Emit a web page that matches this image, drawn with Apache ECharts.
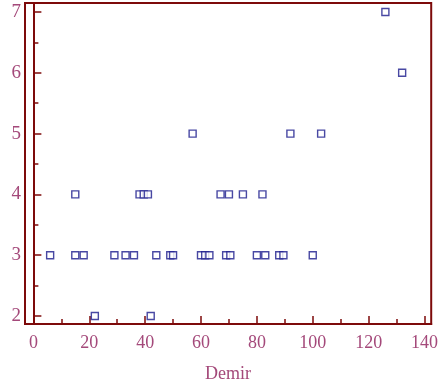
<!DOCTYPE html>
<html>
<head>
<meta charset="utf-8">
<script src="https://cdn.jsdelivr.net/npm/echarts@6/dist/echarts.min.js"></script>
<style>
  html, body { margin: 0; padding: 0; background: #fff; }
  #chart { width: 441px; height: 390px; }
</style>
</head>
<body>
<div id="chart"></div>
<script>
// Demir values (x) and the class values (y)
const demir = [126, 132, 57, 92, 103,
  15, 38, 39.5, 41, 67, 70, 75, 82,
  6, 15, 18, 29, 33, 36, 44, 49, 50, 60, 61.5, 63, 69, 70.5, 80, 83, 88, 89.5, 100,
  22, 42]
const grade = [7, 6, 5, 5, 5,
  4, 4, 4, 4, 4, 4, 4, 4,
  3, 3, 3, 3, 3, 3, 3, 3, 3, 3, 3, 3, 3, 3, 3, 3, 3, 3, 3,
  2, 2]
const xTicks = [0, 20, 40, 60, 80, 100, 120, 140]
const xMinor = [10, 30, 50, 70, 90, 110, 130]
const yTicks = [2, 3, 4, 5, 6, 7]
const yMinor = [2.5, 3.5, 4.5, 5.5, 6.5]

const axisRed = '#7d0a0a'
const labelColor = '#a4497a'
const font = 'Liberation Serif'

const chart = echarts.init(document.getElementById('chart'))

function xAx(ticks, len, withLabels) {
  return {
    type: 'value', min: -3.0, max: 142.4, position: 'bottom',
    splitLine: { show: false },
    axisLine: { show: true, lineStyle: { color: axisRed, width: 2 } },
    axisTick: { show: true, inside: true, length: len, customValues: ticks, lineStyle: { color: axisRed, width: 1.5 } },
    axisLabel: {
      show: withLabels, customValues: ticks, margin: 10,
      color: labelColor, fontFamily: font, fontSize: 18
    },
    name: withLabels ? 'Demir' : '', nameLocation: 'middle', nameGap: 41,
    nameTextStyle: { color: labelColor, fontFamily: font, fontSize: 18 }
  }
}

function yAx(ticks, len, withLabels) {
  return {
    type: 'value', min: 1.869, max: 7.148, position: 'left',
    splitLine: { show: false },
    axisLine: { show: true, lineStyle: { color: axisRed, width: 2 } },
    axisTick: { show: true, inside: true, length: len, customValues: ticks, lineStyle: { color: axisRed, width: 1.5 } },
    axisLabel: {
      show: withLabels, customValues: ticks, margin: 4,
      color: labelColor, fontFamily: font, fontSize: 19
    }
  }
}

const points = demir.map((d, i) => [d, grade[i]])

const option = {
  animation: false,
  backgroundColor: '#fff',
  grid: {
    left: 25, top: 3, right: 6, bottom: 66,
    show: true, borderColor: axisRed, borderWidth: 2
  },
  xAxis: [xAx(xTicks, 8, true), xAx(xMinor, 5, false)],
  yAxis: [yAx(yTicks, 8, true), yAx(yMinor, 5, false)],
  series: [
    {
      type: 'scatter',
      data: points,
      symbol: 'rect',
      symbolSize: 7,
      itemStyle: { color: '#fff', borderColor: '#1a1a8c', borderWidth: 1.4 }
    }
  ]
}
chart.setOption(option)
</script>
</body>
</html>
